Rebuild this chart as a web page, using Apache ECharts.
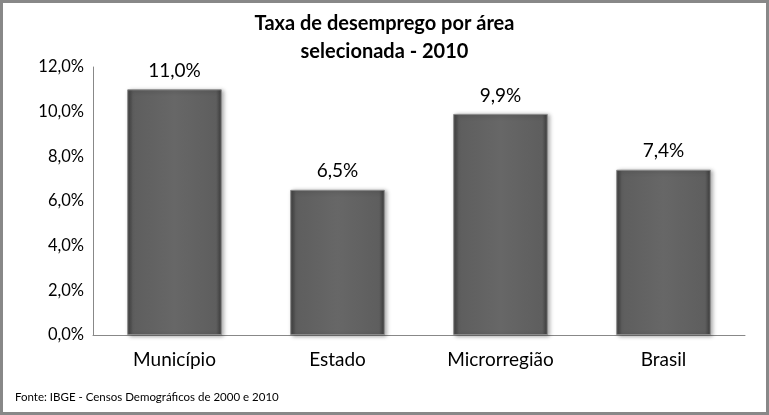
<!DOCTYPE html>
<html><head><meta charset="utf-8">
<script src="https://cdn.jsdelivr.net/npm/echarts@6/dist/echarts.min.js"></script>
<style>html,body{margin:0;padding:0;background:#fff}#c{width:769px;height:415px}</style>
</head><body><div id="c"></div>
<script>
const categories = ['Município', 'Estado', 'Microrregião', 'Brasil'];
const values = [11.0, 6.5, 9.9, 7.4];
const yTicks = [0, 2, 4, 6, 8, 10, 12];
const titleText = 'Taxa de desemprego por área\nselecionada - 2010';
const sourceText = 'Fonte: IBGE - Censos Demográficos de 2000 e 2010';

const fmt = v => v.toFixed(1).replace('.', ',') + '%';
const FONT = 'Lato, "Open Sans", sans-serif';
const chart = echarts.init(document.getElementById('c'));
chart.setOption({
  animation: false,
  backgroundColor: '#fff',
  title: {
    text: titleText, left: 'center', top: 5,
    textStyle: { fontFamily: FONT, fontSize: 20, fontWeight: 'bold', color: '#000', lineHeight: 28 }
  },
  graphic: [
    { type: 'rect', shape: { x: 1.5, y: 1.5, width: 766, height: 412 }, style: { fill: 'none', stroke: '#888', lineWidth: 3 }, silent: true },
    { type: 'text', left: 15, top: 391, style: { text: sourceText, fontFamily: FONT, fontSize: 11.5, fill: '#000' } }
  ],
  grid: { left: 93, right: 24, top: 67, bottom: 80 },
  xAxis: {
    type: 'category', data: categories,
    axisLine: { lineStyle: { color: '#888' } },
    axisTick: { show: false },
    axisLabel: { fontFamily: FONT, fontSize: 19, color: '#000', margin: 15 }
  },
  yAxis: {
    type: 'value', min: yTicks[0], max: yTicks[yTicks.length - 1], interval: 2,
    axisLine: { show: true, lineStyle: { color: '#888' } },
    axisTick: { show: false },
    splitLine: { show: false },
    axisLabel: { fontFamily: FONT, fontSize: 16.5, color: '#000', margin: 9, formatter: v => fmt(v) }
  },
  series: [{
    type: 'bar', data: values, barWidth: '58%',
    itemStyle: {
      color: new echarts.graphic.LinearGradient(0, 0, 1, 0, [
        { offset: 0, color: '#3e3e3e' },
        { offset: 0.06, color: '#5e5e5e' },
        { offset: 0.5, color: '#676767' },
        { offset: 0.94, color: '#5e5e5e' },
        { offset: 1, color: '#3a3a3a' }
      ]),
      borderColor: '#8a8a8a', borderWidth: 1,
      shadowColor: 'rgba(0,0,0,0.35)', shadowBlur: 4, shadowOffsetX: 2, shadowOffsetY: 1
    },
    label: {
      show: true, position: 'top', distance: 9,
      fontFamily: FONT, fontSize: 19, color: '#000',
      formatter: p => fmt(p.value)
    }
  }]
});
</script></body></html>
